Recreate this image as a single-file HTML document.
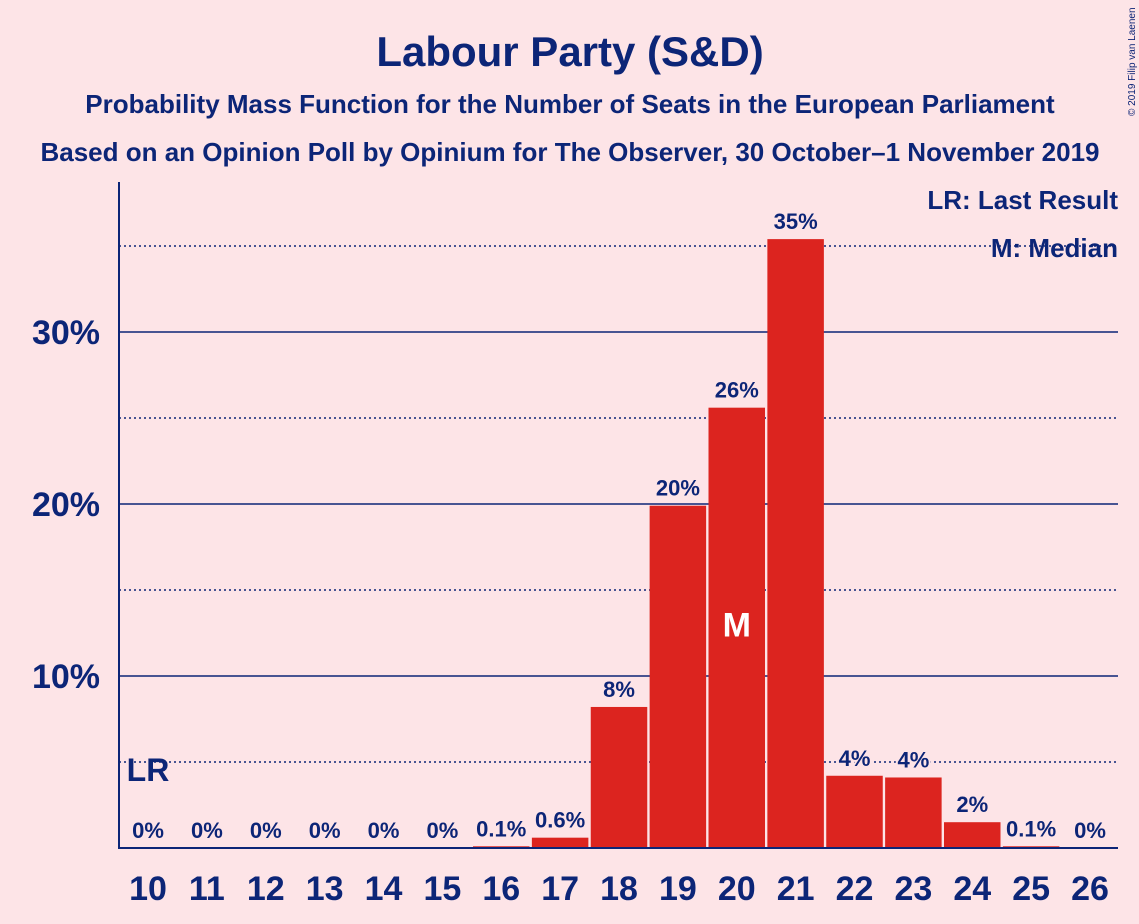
<!DOCTYPE html>
<html><head><meta charset="utf-8"><style>
body{margin:0;background:#FDE4E7;}
svg{display:block;font-family:"Liberation Sans",sans-serif;}
</style></head><body>
<svg width="1139" height="924" viewBox="0 0 1139 924" xmlns="http://www.w3.org/2000/svg">
<rect width="1139" height="924" fill="#FDE4E7"/>
<text x="570" y="66" text-anchor="middle" font-size="42" font-weight="bold" fill="#0C2577">Labour Party (S&amp;D)</text>
<text x="570" y="113" text-anchor="middle" font-size="26" font-weight="bold" fill="#0C2577">Probability Mass Function for the Number of Seats in the European Parliament</text>
<text x="570" y="161" text-anchor="middle" font-size="26" font-weight="bold" fill="#0C2577">Based on an Opinion Poll by Opinium for The Observer, 30 October–1 November 2019</text>
<text x="1135" y="116" font-size="10" fill="#0C2577" transform="rotate(-90 1135 116)">© 2019 Filip van Laenen</text>
<g id="grid"></g>
<g id="bars"></g>
<g id="labels"></g>
<line x1="119" y1="182" x2="119" y2="849" stroke="#0C2577" stroke-width="2"/>
<line x1="118" y1="848" x2="1118" y2="848" stroke="#0C2577" stroke-width="2"/>
<text x="1118" y="209" text-anchor="end" font-size="26" font-weight="bold" fill="#0C2577">LR: Last Result</text>
<text x="1118" y="257" text-anchor="end" font-size="26" font-weight="bold" fill="#0C2577">M: Median</text>
</svg>
<script>
const seats=[10,11,12,13,14,15,16,17,18,19,20,21,22,23,24,25,26];
const probs=[0,0,0,0,0,0,0.1,0.6,8.2,19.9,25.6,35.4,4.2,4.1,1.5,0.1,0];
const valueLabels=["0%","0%","0%","0%","0%","0%","0.1%","0.6%","8%","20%","26%","35%","4%","4%","2%","0.1%","0%"];
const yTicks=[10,20,30];
const yMinor=[5,15,25,35];
const median=20, lastResult=10;
const NS="http://www.w3.org/2000/svg";
const y=v=>848-v*17.2;
const x=s=>148+(s-10)*58.875;
const bw=56.5;
function mk(t,a,p){const e=document.createElementNS(NS,t);for(const k in a)e.setAttribute(k,a[k]);p.appendChild(e);return e;}
const g=document.getElementById('grid'),b=document.getElementById('bars'),l=document.getElementById('labels');
yMinor.forEach(v=>{const e=mk('line',{x1:119,x2:1118,y1:y(v),y2:y(v),stroke:'#0C2577','stroke-width':1.5,'stroke-dasharray':'2,3'},g);

});
yTicks.forEach(v=>{const e=mk('line',{x1:119,x2:1118,y1:y(v),y2:y(v),stroke:'#0C2577','stroke-width':1.5},g);


const t=mk('text',{x:100,y:y(v)+12,'text-anchor':'end','font-size':34,'font-weight':'bold',fill:'#0C2577'},g);t.textContent=v+'%';

});
seats.forEach((s,i)=>{const p=probs[i];
if(p>0){const r=mk('rect',{x:x(s)-bw/2,y:y(p),width:bw,height:848-y(p),fill:'#DC241F'},b);

}
const lb=mk('text',{x:x(s),y:Math.min(y(p),848)-10,'text-anchor':'middle','font-size':22,'font-weight':'bold',fill:'#0C2577',stroke:'#FDE4E7','stroke-width':4,'paint-order':'stroke'},l);lb.textContent=valueLabels[i];


const xt=mk('text',{x:x(s),y:900,'text-anchor':'middle','font-size':34,'font-weight':'bold',fill:'#0C2577'},l);xt.textContent=s;


if(s===median){const m=mk('text',{x:x(s),y:y(12.3),'text-anchor':'middle','font-size':34,'font-weight':'bold',fill:'#FFFFFF'},l);m.textContent='M';

}
if(s===lastResult){const m=mk('text',{x:x(s),y:y(3.9),'text-anchor':'middle','font-size':32,'font-weight':'bold',fill:'#0C2577'},l);m.textContent='LR';

}
});
</script>
</body></html>
